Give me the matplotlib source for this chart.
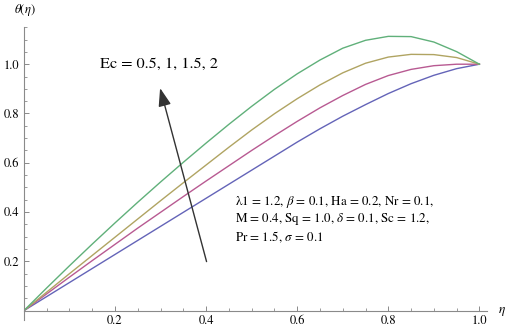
import matplotlib
matplotlib.use("Agg")
import matplotlib.pyplot as plt
from matplotlib.ticker import MultipleLocator, FixedLocator

plt.rcParams['font.family'] = ['STIXGeneral', 'DejaVu Serif']
plt.rcParams['mathtext.fontset'] = 'stix'

eta = [0.00, 0.05, 0.10, 0.15, 0.20, 0.25, 0.30, 0.35, 0.40, 0.45, 0.50,
       0.55, 0.60, 0.65, 0.70, 0.75, 0.80, 0.85, 0.90, 0.95, 1.00]

theta_ec05 = [0.000, 0.057, 0.114, 0.171, 0.228, 0.285, 0.342, 0.399, 0.456, 0.513, 0.570,
              0.627, 0.684, 0.738, 0.789, 0.836, 0.881, 0.921, 0.955, 0.982, 1.000]
theta_ec1 = [0.000, 0.068, 0.136, 0.203, 0.269, 0.335, 0.399, 0.463, 0.526, 0.588, 0.650,
             0.710, 0.768, 0.823, 0.873, 0.918, 0.954, 0.979, 0.994, 1.000, 1.000]
theta_ec15 = [0.000, 0.075, 0.150, 0.224, 0.298, 0.372, 0.446, 0.519, 0.591, 0.663, 0.733,
              0.799, 0.860, 0.916, 0.965, 1.004, 1.029, 1.040, 1.039, 1.027, 1.000]
theta_ec2 = [0.000, 0.092, 0.182, 0.270, 0.356, 0.440, 0.522, 0.602, 0.680, 0.756, 0.829,
             0.898, 0.961, 1.017, 1.065, 1.097, 1.113, 1.112, 1.090, 1.051, 1.000]

series = [theta_ec05, theta_ec1, theta_ec15, theta_ec2]
colors = ['#6464b8', '#b85a92', '#b0a462', '#60b07a']

xticks = [0.2, 0.4, 0.6, 0.8, 1.0]
xticklabels = ['0.2', '0.4', '0.6', '0.8', '1.0']
yticks = [0.2, 0.4, 0.6, 0.8, 1.0]
yticklabels = ['0.2', '0.4', '0.6', '0.8', '1.0']

ec_label = 'Ec = 0.5, 1, 1.5, 2'
param_lines = [r'λ1 = 1.2, $\beta$ = 0.1, Ha = 0.2, Nr = 0.1,',
               r'M = 0.4, Sq = 1.0, $\delta$ = 0.1, Sc = 1.2,',
               r'Pr = 1.5, $\sigma$ = 0.1']
arrow_tail = (0.401, 0.199)
arrow_head = (0.299, 0.903)

W, H = 510, 330
fig = plt.figure(figsize=(W / 100, H / 100), dpi=100)
x0_px, x1_px = 23.9, 486.7
ytop_px, ybot_px = 27.0, 320.0
ax = fig.add_axes([x0_px / W, 1 - ybot_px / H, (x1_px - x0_px) / W, (ybot_px - ytop_px) / H])
ax.set_xlim(0, 1.016)
ax.set_ylim(-0.038, 1.151)

for s, c in zip(series, colors):
    ax.plot(eta, s, color=c, lw=1.0, solid_joinstyle='round')

axis_color = '#8a8a8a'
for side in ['top', 'right']:
    ax.spines[side].set_visible(False)
ax.spines['bottom'].set_position(('data', 0))
ax.spines['left'].set_position(('data', 0))
for side in ['bottom', 'left']:
    ax.spines[side].set_color(axis_color)
    ax.spines[side].set_linewidth(0.8)

ax.xaxis.set_major_locator(FixedLocator(xticks))
ax.set_xticklabels(xticklabels)
ax.yaxis.set_major_locator(FixedLocator(yticks))
ax.set_yticklabels(yticklabels)
ax.xaxis.set_minor_locator(MultipleLocator(0.05))
ax.yaxis.set_minor_locator(MultipleLocator(0.05))
ax.tick_params(which='major', direction='in', length=3.6, width=0.7, color=axis_color,
               labelsize=9, pad=3.5, labelcolor='black')
ax.tick_params(which='minor', direction='in', length=2.2, width=0.6, color=axis_color)

ax.annotate('', xy=arrow_head, xytext=arrow_tail,
            arrowprops=dict(arrowstyle='-|>,head_length=1.0,head_width=0.35',
                            mutation_scale=11, color='#333333', lw=1.0,
                            shrinkA=0, shrinkB=0))

ax.text(0.167, 1.0, ec_label, fontsize=11.7, ha='left', va='center')
for i, line in enumerate(param_lines):
    ax.text(0.463, 0.442 - i * 0.071, line, fontsize=9.4, ha='left', va='center')

fig.text(24.5 / W, 1 - 10 / H, r'$\theta(\eta)$', fontsize=9, ha='center', va='center')
fig.text(502 / W, 1 - 312 / H, r'$\eta$', fontsize=9.5, ha='center', va='center')

fig.savefig('out.png', dpi=100)
